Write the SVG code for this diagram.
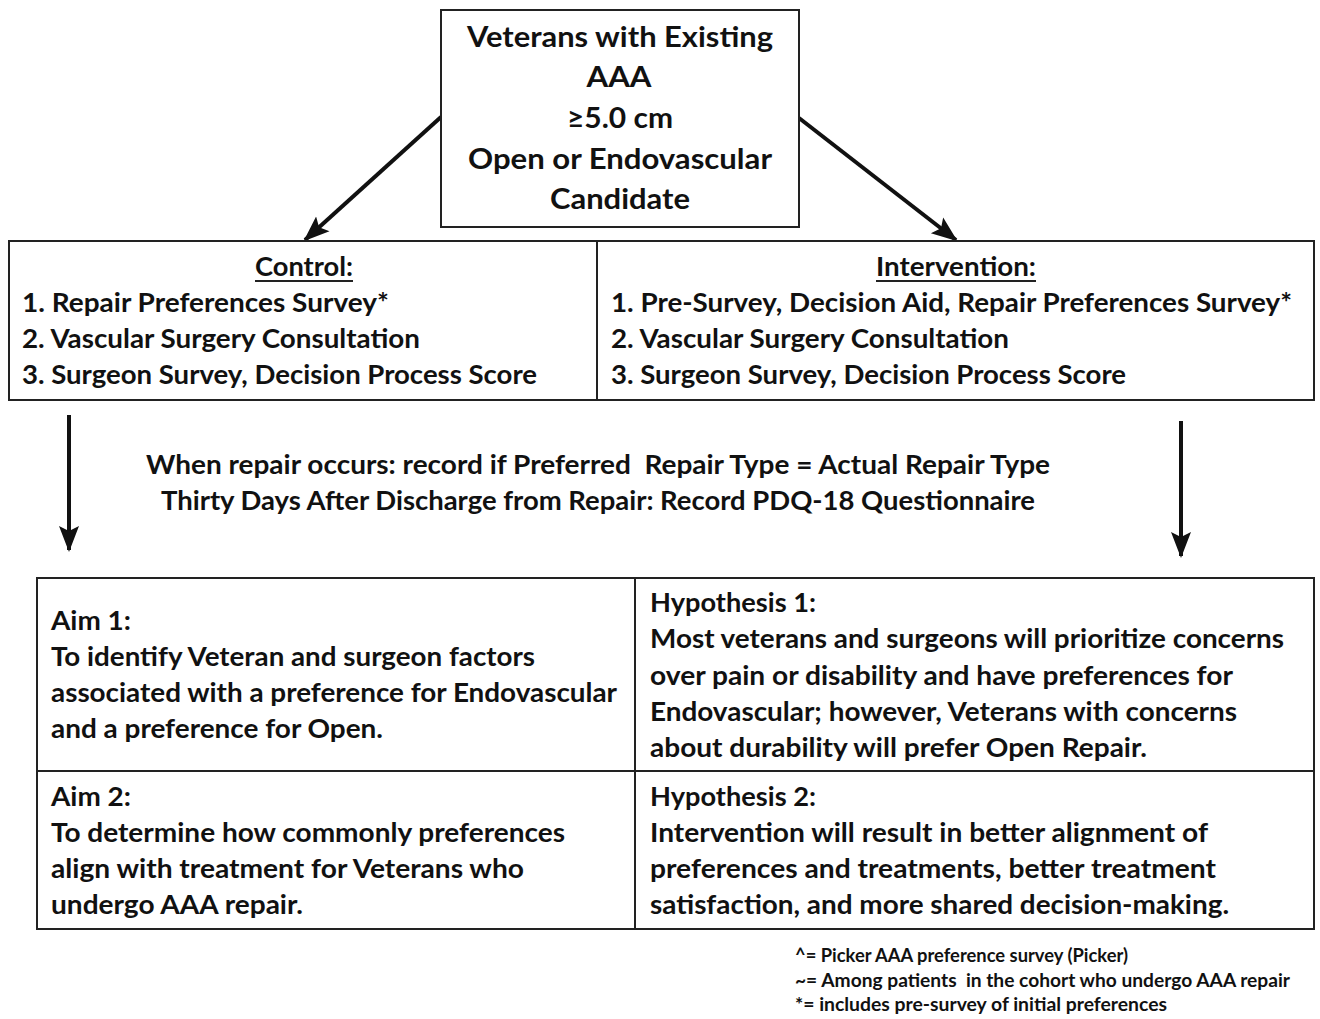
<svg xmlns="http://www.w3.org/2000/svg" width="1320" height="1019" viewBox="0 0 1320 1019">
<style>
text{font-family:Lato,"Liberation Sans",sans-serif;font-weight:bold;fill:#111;}
.t{font-size:28px;text-anchor:middle;}
.m{font-size:26px;}
.c{font-size:26px;text-anchor:middle;}
.f{font-size:18px;}
.pre{white-space:pre;}
.box{fill:#fff;stroke:#222;stroke-width:2;}
.ln{stroke:#222;stroke-width:2;fill:none;}
.ar{stroke:#111;stroke-width:4;fill:none;marker-end:url(#ah);}
</style>
<defs>
<marker id="ah" markerUnits="userSpaceOnUse" markerWidth="26" markerHeight="26" viewBox="0 0 26 26" refX="24" refY="13" orient="auto">
<path d="M0,3 L26,13 L0,23 L5,13 Z" fill="#111"/>
</marker>
</defs>
<rect width="1320" height="1019" fill="#fff"/>
<g id="connectors">
<line class="ar" x1="441" y1="117" x2="305" y2="240"/>
<line class="ar" x1="799" y1="118" x2="956" y2="240"/>
<line class="ar" x1="69" y1="415" x2="69" y2="550"/>
<line class="ar" x1="1181" y1="421" x2="1181" y2="556"/>
</g>
<g id="population">
<rect class="box" x="441" y="10" width="358" height="217"/>
<text class="t" x="620" y="47" textLength="306" lengthAdjust="spacingAndGlyphs">Veterans with Existing</text>
<text class="t" x="619" y="87" textLength="65" lengthAdjust="spacingAndGlyphs">AAA</text>
<text class="t" x="620" y="128" textLength="106" lengthAdjust="spacingAndGlyphs">≥5.0 cm</text>
<text class="t" x="620" y="169" textLength="304" lengthAdjust="spacingAndGlyphs">Open or Endovascular</text>
<text class="t" x="620" y="209" textLength="140" lengthAdjust="spacingAndGlyphs">Candidate</text>
</g>
<g id="arms">
<rect class="box" x="9" y="241" width="1305" height="159"/>
<line class="ln" x1="597" y1="241" x2="597" y2="400"/>
</g>
<g id="control">
<text class="c" x="304" y="276" textLength="98" lengthAdjust="spacingAndGlyphs">Control:</text>
<line class="ln" x1="255" y1="281" x2="353" y2="281"/>
<text class="m" x="22" y="312" textLength="367" lengthAdjust="spacingAndGlyphs">1. Repair Preferences Survey*</text>
<text class="m" x="22" y="348" textLength="398" lengthAdjust="spacingAndGlyphs">2. Vascular Surgery Consultation</text>
<text class="m" x="22" y="384" textLength="515" lengthAdjust="spacingAndGlyphs">3. Surgeon Survey, Decision Process Score</text>
</g>
<g id="intervention">
<text class="c" x="956" y="276" textLength="160" lengthAdjust="spacingAndGlyphs">Intervention:</text>
<line class="ln" x1="876" y1="281" x2="1036" y2="281"/>
<text class="m" x="611" y="312" textLength="681" lengthAdjust="spacingAndGlyphs">1. Pre-Survey, Decision Aid, Repair Preferences Survey*</text>
<text class="m" x="611" y="348" textLength="398" lengthAdjust="spacingAndGlyphs">2. Vascular Surgery Consultation</text>
<text class="m" x="611" y="384" textLength="515" lengthAdjust="spacingAndGlyphs">3. Surgeon Survey, Decision Process Score</text>
</g>
<g id="outcomes">
<text class="m pre" x="146" y="474" textLength="904" lengthAdjust="spacingAndGlyphs">When repair occurs: record if Preferred  Repair Type = Actual Repair Type</text>
<text class="m" x="161" y="510" textLength="874" lengthAdjust="spacingAndGlyphs">Thirty Days After Discharge from Repair: Record PDQ-18 Questionnaire</text>
</g>
<g id="aims-table">
<rect class="box" x="37" y="578" width="1277" height="351"/>
<line class="ln" x1="37" y1="771" x2="1314" y2="771"/>
<line class="ln" x1="635" y1="578" x2="635" y2="929"/>
</g>
<g id="aim1">
<text class="m" x="51" y="630" textLength="80" lengthAdjust="spacingAndGlyphs">Aim 1:</text>
<text class="m" x="51" y="666" textLength="484" lengthAdjust="spacingAndGlyphs">To identify Veteran and surgeon factors</text>
<text class="m" x="51" y="702" textLength="566" lengthAdjust="spacingAndGlyphs">associated with a preference for Endovascular</text>
<text class="m" x="51" y="738" textLength="332" lengthAdjust="spacingAndGlyphs">and a preference for Open.</text>
</g>
<g id="hypothesis1">
<text class="m" x="650" y="612" textLength="166" lengthAdjust="spacingAndGlyphs">Hypothesis 1:</text>
<text class="m" x="650" y="648" textLength="634" lengthAdjust="spacingAndGlyphs">Most veterans and surgeons will prioritize concerns</text>
<text class="m" x="650" y="685" textLength="583" lengthAdjust="spacingAndGlyphs">over pain or disability and have preferences for</text>
<text class="m" x="650" y="721" textLength="587" lengthAdjust="spacingAndGlyphs">Endovascular; however, Veterans with concerns</text>
<text class="m" x="650" y="757" textLength="497" lengthAdjust="spacingAndGlyphs">about durability will prefer Open Repair.</text>
</g>
<g id="aim2">
<text class="m" x="51" y="806" textLength="80" lengthAdjust="spacingAndGlyphs">Aim 2:</text>
<text class="m" x="51" y="842" textLength="514" lengthAdjust="spacingAndGlyphs">To determine how commonly preferences</text>
<text class="m" x="51" y="878" textLength="473" lengthAdjust="spacingAndGlyphs">align with treatment for Veterans who</text>
<text class="m" x="51" y="914" textLength="252" lengthAdjust="spacingAndGlyphs">undergo AAA repair.</text>
</g>
<g id="hypothesis2">
<text class="m" x="650" y="806" textLength="166" lengthAdjust="spacingAndGlyphs">Hypothesis 2:</text>
<text class="m" x="650" y="842" textLength="558" lengthAdjust="spacingAndGlyphs">Intervention will result in better alignment of</text>
<text class="m" x="650" y="878" textLength="566" lengthAdjust="spacingAndGlyphs">preferences and treatments, better treatment</text>
<text class="m" x="650" y="914" textLength="579" lengthAdjust="spacingAndGlyphs">satisfaction, and more shared decision-making.</text>
</g>
<g id="footnotes">
<text class="f" x="795" y="962" textLength="333" lengthAdjust="spacingAndGlyphs">^= Picker AAA preference survey (Picker)</text>
<text class="f pre" x="795" y="987" textLength="495" lengthAdjust="spacingAndGlyphs">~= Among patients  in the cohort who undergo AAA repair</text>
<text class="f" x="795" y="1011" textLength="372" lengthAdjust="spacingAndGlyphs">*= includes pre-survey of initial preferences</text>
</g>
</svg>
